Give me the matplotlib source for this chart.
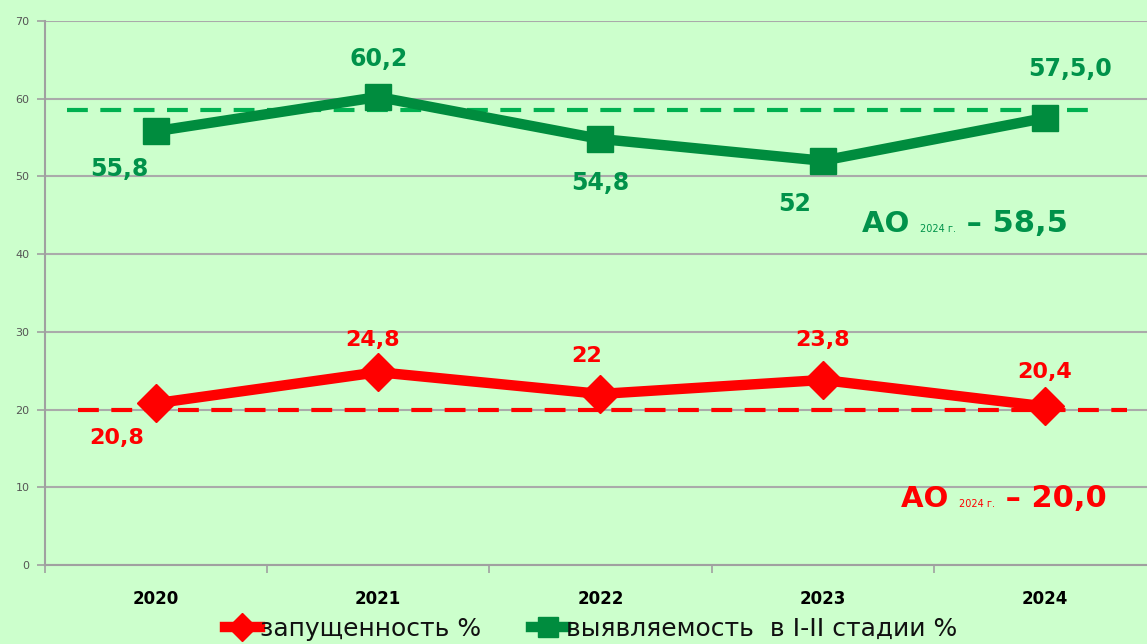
import matplotlib
matplotlib.use("Agg")
import matplotlib.pyplot as plt
from matplotlib.offsetbox import TextArea, HPacker, AnnotationBbox

plt.rcParams['font.family'] = ['DejaVu Sans']

years = ["2020", "2021", "2022", "2023", "2024"]
late = [20.8, 24.8, 22, 23.8, 20.4]
late_labels = ["20,8", "24,8", "22", "23,8", "20,4"]
early = [55.8, 60.2, 54.8, 52, 57.5]
early_labels = ["55,8", "60,2", "54,8", "52", "57,5,0"]
ao_late = 20.0
ao_early = 58.5

bg = "#CCFFCC"
red = "#FF0000"
dgreen = "#008C3E"
lgreen = "#00B050"
tgreen = "#00924A"

fig = plt.figure(figsize=(11.47, 6.44), dpi=100)
fig.patch.set_facecolor(bg)
ax = fig.add_axes([0.039, 0.1227, 0.969, 0.845])
ax.set_facecolor(bg)

x = list(range(len(years)))

# reference levels (dashed)
ax.plot([-0.40, 4.24], [ao_early, ao_early], color=lgreen, lw=3, dashes=(5, 3), zorder=2)
ax.plot([-0.35, 4.37], [ao_late, ao_late], color=red, lw=3, dashes=(5, 3), zorder=2)

ax.plot(x, late, color=red, lw=7.5, marker="D", ms=19, zorder=3,
        label="запущенность %")
ax.plot(x, early, color=dgreen, lw=7.5, marker="s", ms=19, zorder=3,
        label="выявляемость  в I-II стадии %")

# value labels
late_off = [(-28, -25), (-4, 23), (-10, 27), (0, 29), (0, 25)]
early_off = [(-26, -27), (0, 27), (0, -32), (-20, -31), (18, 35)]
for i in x:
    ax.annotate(late_labels[i], (i, late[i]), xytext=late_off[i], textcoords="offset points",
                ha="center", va="center", color=red, fontsize=16, fontweight="bold", zorder=5)
    ax.annotate(early_labels[i], (i, early[i]), xytext=early_off[i], textcoords="offset points",
                ha="center", va="center", color=tgreen, fontsize=17, fontweight="bold", zorder=5)


def ao_box(val, col, xy):
    parts = [
        TextArea("АО ", textprops=dict(color=col, fontsize=21, fontweight="bold")),
        TextArea("2024 г.", textprops=dict(color=col, fontsize=7)),
        TextArea(" – " + val, textprops=dict(color=col, fontsize=22, fontweight="bold")),
    ]
    box = HPacker(children=parts, align="baseline", pad=0, sep=0)
    ab = AnnotationBbox(box, xy, xycoords="axes fraction", frameon=False,
                        box_alignment=(0.5, 0.5))
    ax.add_artist(ab)


ao_box("58,5", tgreen, (0.828, 0.628))
ao_box("20,0", red, (0.863, 0.123))

ax.set_xlim(-0.5, 4.5)
ax.set_ylim(0, 70)
ax.set_yticks(range(0, 71, 10))
ax.set_xticks(x)
ax.set_xticklabels(years, fontsize=12, fontweight="bold")
ax.set_xticks([i + 0.5 for i in range(-1, 5)], minor=True)
ax.tick_params(axis="x", which="major", length=0, pad=18)
ax.tick_params(axis="x", which="minor", length=6, color="#A0A0A0", width=1.2)
ax.tick_params(axis="y", length=6, color="#A0A0A0", width=1.2, labelsize=8,
               labelcolor="#555555", pad=5)
ax.grid(axis="y", color="#AAAAAA", lw=1.5)
ax.set_axisbelow(True)
for s in ["top", "right"]:
    ax.spines[s].set_visible(False)
for s in ["left", "bottom"]:
    ax.spines[s].set_color("#A0A0A0")
    ax.spines[s].set_linewidth(1.5)

leg = fig.legend(loc="lower center", bbox_to_anchor=(0.515, -0.03), ncol=2, frameon=False,
                 fontsize=18, handlelength=1.4, handletextpad=0.0, columnspacing=2.0,
                 markerscale=0.75)
for t in leg.get_texts():
    t.set_color("#111111")

fig.savefig("out.png", dpi=100, facecolor=bg)
